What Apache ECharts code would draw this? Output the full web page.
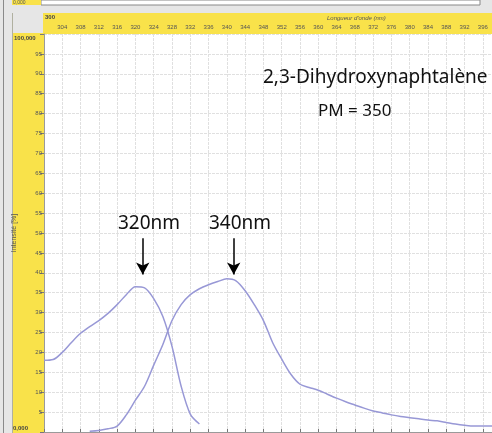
<!DOCTYPE html>
<html>
<head>
<meta charset="utf-8">
<script src="https://cdn.jsdelivr.net/npm/echarts@6/dist/echarts.min.js"></script>
<style>
  html, body { margin: 0; padding: 0; background: #fff; }
  #chart { width: 492px; height: 433px; }
</style>
</head>
<body>
<div id="chart"></div>
<script>
// longueurs d'onde (nm), pas de 2 nm
const wlExcitation = [300, 302, 304, 306, 308, 310, 312, 314, 316, 318, 320, 322, 324, 326, 328, 330, 332, 334];
const excitation = [18, 18.2, 20, 22.5, 24.8, 26.5, 28, 29.8, 32, 34.5, 36.5, 36.2, 33.5, 29, 21.5, 11.5, 4.5, 2];

const wlEmission = [310, 312, 314, 316, 318, 320, 322, 324, 326, 328, 330, 332, 334, 336, 338, 340, 342, 344,
  346, 348, 350, 352, 354, 356, 358, 360, 362, 364, 366, 368, 370, 372, 374, 376, 378, 380, 382, 384, 386,
  388, 390, 392, 394, 396, 398];
const emission = [0.2, 0.4, 0.8, 1.5, 4.3, 8, 11.5, 16.8, 22, 28, 32, 34.5, 36, 37, 37.8, 38.5, 38, 35.5,
  32, 28, 22.5, 18.3, 14.5, 12, 11.2, 10.5, 9.5, 8.5, 7.6, 6.8, 6, 5.3, 4.8, 4.3, 3.9, 3.6, 3.3, 3, 2.8,
  2.4, 2, 1.7, 1.5, 1.5, 1.5];

// flèches des pics
const peaks = [321.6, 341.5];
const peakLabels = ['320nm', '340nm'];

const chart = echarts.init(document.getElementById('chart'));

const yellow = '#f9e24a';
const lineColor = '#9898d6';

function toPairs(xs, ys) {
  return xs.map((x, i) => [x, ys[i]]);
}

chart.setOption({
  animation: false,
  grid: { left: 44, top: 34, right: 0, bottom: 1 },
  xAxis: {
    type: 'value',
    position: 'top',
    min: 300,
    max: 398,
    interval: 4,
    axisLine: { lineStyle: { color: '#9a9a9a' } },
    axisTick: { length: 3, lineStyle: { color: '#777' } },
    axisLabel: {
      margin: 4,
      fontSize: 6,
      color: '#555',
      formatter: v => (v === 300 ? '' : v)
    },
    splitLine: { lineStyle: { color: '#e0e0e0', type: [3, 1] } }
  },
  yAxis: {
    type: 'value',
    min: 0,
    max: 100,
    interval: 5,
    name: 'Intensité [%]',
    nameLocation: 'middle',
    nameRotate: 90,
    nameGap: 26,
    nameTextStyle: { fontSize: 7, color: '#555' },
    axisLine: { show: true, lineStyle: { color: '#9a9a9a' } },
    axisTick: { show: true, length: 4, lineStyle: { color: '#777' } },
    axisLabel: {
      margin: 2,
      fontSize: 6,
      color: '#555',
      formatter: v => (v === 0 || v === 100 ? '' : v)
    },
    splitLine: { lineStyle: { color: '#e0e0e0', type: [3, 1] } }
  },
  series: [{
    type: 'line',
    data: toPairs(wlExcitation, excitation),
    smooth: 0.3,
    symbol: 'none',
    lineStyle: { color: lineColor, width: 1.5 },
    markLine: {
      silent: true,
      symbol: ['none', 'arrow'],
      symbolSize: [10, 12],
      label: { show: false },
      lineStyle: { color: '#000', width: 1.5, type: 'solid' },
      data: peaks.map(p => [{ coord: [p, 48.7] }, { coord: [p, 39.6] }])
    }
  }, {
    type: 'line',
    data: toPairs(wlEmission, emission),
    smooth: 0.3,
    symbol: 'none',
    lineStyle: { color: lineColor, width: 1.5 }
  }],
  graphic: [
    // cadre du logiciel
    { type: 'rect', z: -10, shape: { x: 0, y: 0, width: 492, height: 433 }, style: { fill: '#e6e6e6' } },
    { type: 'rect', z: -9, shape: { x: 41, y: 0, width: 439, height: 5 }, style: { fill: '#fff', stroke: '#888', lineWidth: 1 } },
    { type: 'rect', z: -9, shape: { x: 12, y: 0, width: 29, height: 5 }, style: { fill: yellow } },
    { type: 'line', z: -9, shape: { x1: 3.5, y1: 0, x2: 3.5, y2: 433 }, style: { stroke: '#8a8a8a', lineWidth: 1 } },
    { type: 'rect', z: -9, shape: { x: 43, y: 13, width: 449, height: 21 }, style: { fill: yellow } },
    { type: 'rect', z: -9, shape: { x: 12, y: 33, width: 32, height: 400 }, style: { fill: yellow } },
    { type: 'rect', z: -9, shape: { x: 44, y: 34, width: 448, height: 399 }, style: { fill: '#fff' } },
    { type: 'line', z: -8, shape: { x1: 12.5, y1: 13, x2: 12.5, y2: 433 }, style: { stroke: '#b0b0a0', lineWidth: 1 } },
    { type: 'text', z: 10, x: 13, y: 0, style: { text: '0,000', fontSize: 5, fill: '#555' } },
    { type: 'text', z: 10, x: 45, y: 14, style: { text: '300', fontSize: 6, fill: '#444', fontWeight: 'bold' } },
    { type: 'text', z: 10, x: 14, y: 35, style: { text: '100,000', fontSize: 6, fill: '#444', fontWeight: 'bold' } },
    { type: 'text', z: 10, x: 13, y: 425, style: { text: '0,000', fontSize: 6, fill: '#444', fontWeight: 'bold' } },
    { type: 'text', z: 10, x: 327, y: 15, style: { text: "Longueur d'onde (nm)", fontSize: 6, fill: '#555', fontStyle: 'italic' } },
    // annotations
    { type: 'text', z: 10, x: 263, y: 78, style: { text: '2,3-Dihydroxynaphtalène', font: '19px "Noto Sans"', fill: '#111', verticalAlign: 'middle' } },
    { type: 'text', z: 10, x: 318, y: 111, style: { text: 'PM = 350', font: '17px "Noto Sans"', fill: '#111', verticalAlign: 'middle' } },
    { type: 'text', z: 10, x: 118, y: 224, style: { text: peakLabels[0], font: '19px "Noto Sans"', fill: '#111', verticalAlign: 'middle' } },
    { type: 'text', z: 10, x: 209, y: 224, style: { text: peakLabels[1], font: '19px "Noto Sans"', fill: '#111', verticalAlign: 'middle' } }
  ]
});
</script>
</body>
</html>
